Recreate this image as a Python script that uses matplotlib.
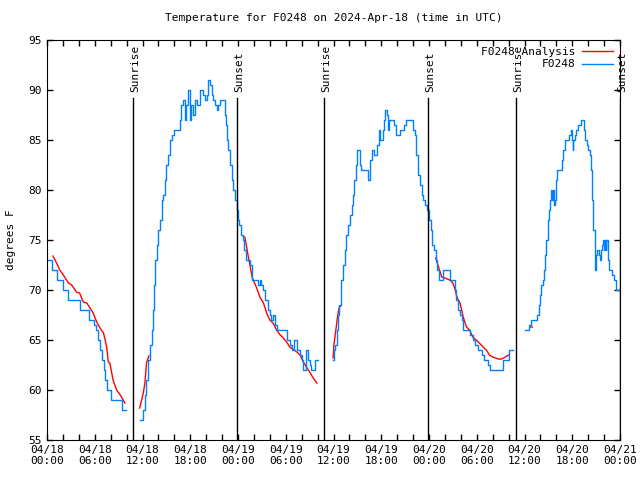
import numpy as np
import pandas as pd
import matplotlib
matplotlib.use('Agg')
import matplotlib.pyplot as plt
import matplotlib.dates as mdates
import matplotlib.transforms as mtransforms

nan = np.nan

# observations (hours after 2024-04-18 00:00 UTC, degrees F); nan = gap
obs_h = [0.1, 0.6, 1.2, 2.0, 2.7, 4.15, 5.3, 5.9, 6.2, 6.4, 6.65, 6.9, 7.1, 7.3, 7.5, 8.1, 9.4, 9.8, 9.9,
         11.7, 12.1, 12.3, 12.5, 12.7, 13.0, 13.15, 13.3, 13.45, 13.55, 13.8, 14.0, 14.2, 14.4, 14.6, 14.8,
         15.0, 15.25, 15.45, 15.65, 15.9, 16.5, 16.7, 16.9, 17.1, 17.3, 17.5, 17.75, 17.95, 18.15, 18.4,
         18.6, 18.8, 19.0, 19.2, 19.6, 19.85, 20.05, 20.25, 20.5, 20.7, 20.9, 21.1, 21.3, 21.5, 21.7,
         22.15, 22.35, 22.5, 22.6, 22.8, 23.0, 23.2, 23.4, 23.6, 23.85, 24.0, 24.1, 24.4, 24.6, 24.7,
         25.0, 25.5, 25.7, 25.8, 26.5, 26.75, 26.95, 27.2, 27.4, 27.8, 28.0, 28.2, 28.4, 28.65, 28.85,
         30.1, 30.5, 30.75, 31.0, 31.4, 31.8, 32.0, 32.2, 32.6, 32.8, 33.0, 33.2, 33.7, 34.0, 34.1,
         35.95, 36.1, 36.2, 36.4, 36.6, 36.7, 36.9, 37.0, 37.2, 37.4, 37.6, 37.85, 38.05, 38.3, 38.5,
         38.6, 38.8, 39.0, 39.35, 39.5, 40.35, 40.55, 40.9, 41.1, 41.5, 41.75, 41.85, 42.2, 42.3, 42.5,
         42.7, 42.85, 43.0, 43.6, 43.8, 44.1, 44.35, 44.8, 45.1, 46.05, 46.2, 46.4, 46.6, 46.85, 47.1,
         47.3, 47.5, 47.7, 48.0, 48.2, 48.4, 48.6, 48.9, 49.0, 49.2, 49.7, 50.7, 51.3, 51.45, 51.7,
         51.9, 52.1, 52.3, 53.2, 53.5, 53.8, 54.2, 54.6, 54.9, 55.4, 55.7, 57.35, 58.0, 58.4, 58.5,
         60.05, 60.6, 60.8, 61.55, 61.8, 62.0, 62.1, 62.3, 62.4, 62.55, 62.7, 62.9, 63.0, 63.1, 63.2,
         63.35, 63.45, 63.55, 63.65, 63.8, 63.9, 64.0, 64.1, 64.7, 64.9, 65.05, 65.6, 65.8, 65.95,
         66.05, 66.15, 66.3, 66.45, 66.7, 67.1, 67.45, 67.6, 67.8, 68.0, 68.2, 68.35, 68.5, 68.65,
         68.8, 68.9, 69.0, 69.15, 69.3, 69.45, 69.55, 69.75, 69.9, 70.0, 70.1, 70.2, 70.3, 70.45,
         70.65, 71.05, 71.25, 71.45, 72.0]
obs_v = [73, 72, 71, 70, 69, 68, 67, 66.5, 66, 65, 64, 63, 62, 61, 60, 59, 58, 58, nan,
         57, 58, 59.5, 61, 63, 64.5, 66, 68, 70.5, 73, 74.5, 76, 77, 79, 79.5, 81,
         82.5, 83.5, 85, 85.5, 86, 86, 87, 88.5, 89, 87, 88.5, 90, 87, 88.5, 87.5,
         89, 88.5, 88.5, 90, 89.5, 89, 89.5, 91, 90.5, 89.5, 89, 88.5, 88, 88.5, 89,
         89, 87.5, 86.5, 85, 84, 82.5, 81, 80, 79, 78, 77, 76.5, 75.5, 75, 74,
         73, 72.5, 72, 71, 70.5, 71, 70.5, 70, 69, 68, 67.5, 67, 67.5, 66.5, 66,
         65, 64.5, 64, 65, 64, 63.5, 63, 62, 64, 63, 62.5, 62, 63, 63, nan,
         63, 64, 64.5, 66, 67.5, 68.5, 69.5, 71, 72.5, 74, 75.5, 76.5, 77.5, 78.5, 79.5,
         81, 82.5, 84, 82.5, 82, 81, 83, 84, 83.5, 84.5, 86, 85, 86, 87, 88,
         87.5, 86, 87, 86.5, 85.5, 85.5, 86, 86.5, 87, 86, 85.5, 83.5, 81.5, 80.5, 79.5,
         79, 78.5, 78, 77, 76, 74.5, 74, 73, 72, 71, 72, 71, 70, 69, 68,
         67.5, 67, 66, 65.5, 65, 64.5, 64, 63.5, 63, 62.5, 62, 63, 64, 64, nan,
         66, 66.5, 67, 67.5, 68.5, 69.5, 70.5, 71, 72, 73.5, 75, 76, 77, 78, 79,
         80, 79, 80, 78.5, 79, 80, 81, 82, 83, 84, 85, 85.5, 86, 85,
         84, 85, 85.5, 86, 86.5, 87, 86, 85, 84.5, 84, 83.5, 82, 79, 76,
         73.5, 72, 73.5, 74, 73.5, 73, 74, 74.5, 75, 74, 75, 74, 75, 73,
         72, 71.5, 71, 70, 70]

# analysis
ana_h = [0.75, 1.2, 1.6, 2.05, 2.7, 3.1, 3.7, 4.1, 4.55, 5.0, 5.4, 5.8, 6.25, 6.65, 7.1, 7.5, 7.7, 7.9,
         8.3, 8.75, 9.2, 9.8, 10.0,
         11.65, 12.1, 12.3, 12.5, 12.8, 13.0,
         24.85, 25.0, 25.3, 25.5, 25.8, 26.3, 26.75, 27.2, 27.6, 28.0, 28.4, 28.85, 29.3, 29.7, 30.1,
         30.5, 31.4, 31.8, 32.2, 32.6, 33.0, 33.45, 33.9, 34.0,
         35.95, 36.05, 36.25, 36.5, 36.7, 36.9, 37.0,
         48.85, 49.2, 49.4, 49.6, 50.0, 50.6, 51.0, 51.3, 51.5, 51.9, 52.3, 52.7, 53.1, 53.5, 54.2,
         54.8, 55.2, 55.6, 56.0, 56.7, 57.1, 57.6, 58.0, 58.1,
         60.75, 61.0]
ana_v = [73.4, 72.7, 72, 71.5, 70.7, 70.5, 69.8, 69.7, 68.8, 68.7, 68.2, 67.7, 66.8, 66.2, 65.7, 64.3, 62.8, 62.7,
         61, 60, 59.5, 58.7, nan,
         58.2, 59.7, 60.7, 62.7, 63.4, nan,
         75.3, 74.7, 73.3, 72.5, 71.2, 70.3, 69.3, 68.7, 67.7, 67, 66.7, 66, 65.5, 65.2, 64.8,
         64.3, 63.8, 63.5, 62.8, 62.3, 61.8, 61.2, 60.7, nan,
         63.2, 64.5, 65.7, 67.3, 68.2, 68.4, nan,
         73.2, 72.3, 71.8, 71.3, 71.2, 71, 70.7, 70, 69.3, 68.7, 67.3, 66.3, 66, 65.3, 64.8,
         64.3, 64, 63.5, 63.3, 63.1, 63.1, 63.3, 63.5, nan,
         66.3, 66.3]

events = ['Sunrise', 'Sunset', 'Sunrise', 'Sunset', 'Sunrise', 'Sunset']
event_h = [10.8, 23.9, 34.8, 47.9, 58.9, 71.95]

start = pd.Timestamp('2024-04-18 00:00')
obs_t = start + pd.to_timedelta(obs_h, unit='h')
ana_t = start + pd.to_timedelta(ana_h, unit='h')
ev_t = start + pd.to_timedelta(event_h, unit='h')

plt.rcParams['font.family'] = 'DejaVu Sans Mono'
plt.rcParams['font.size'] = 8

fig = plt.figure(figsize=(6.4, 4.8), dpi=100)
ax = fig.add_axes([47 / 640, 40 / 480, 573 / 640, 400 / 480])

ax.plot(ana_t, ana_v, color='red', lw=1, label='F0248 Analysis')
ax.plot(obs_t, obs_v, color='#0080ff', lw=1, drawstyle='steps-post', label='F0248')

# event lines with labels just right of the line
shift = mtransforms.offset_copy(ax.get_xaxis_transform(), fig=fig, x=2.5, y=0, units='dots')
for name, t in zip(events, ev_t):
    ax.axvline(t, ymin=0, ymax=0.855, color='black', lw=1)
    ax.text(t, 0.87, name, rotation=90, ha='center', va='bottom',
            transform=shift, fontsize=8)

ax.set_xlim(start, start + pd.Timedelta(hours=72))
ax.set_ylim(55, 95)
ax.set_yticks(range(55, 96, 5))
ax.xaxis.set_major_locator(mdates.HourLocator(byhour=[0, 6, 12, 18]))
ax.xaxis.set_minor_locator(mdates.HourLocator(interval=2))
ax.xaxis.set_major_formatter(mdates.DateFormatter('%m/%d\n%H:%M'))
ax.tick_params(which='both', direction='in', top=True, right=True, length=4, width=1)

ax.set_title('Temperature for F0248 on 2024-Apr-18 (time in UTC)', fontsize=8, pad=14)
ax.set_ylabel('degrees F', labelpad=9)

ax.legend(loc='upper right', frameon=False, markerfirst=False, handlelength=2.8,
          borderaxespad=0.2, labelspacing=0.25, handletextpad=0.6, fontsize=8,
          bbox_to_anchor=(1.0, 1.0))

fig.savefig('out.png', dpi=100)
